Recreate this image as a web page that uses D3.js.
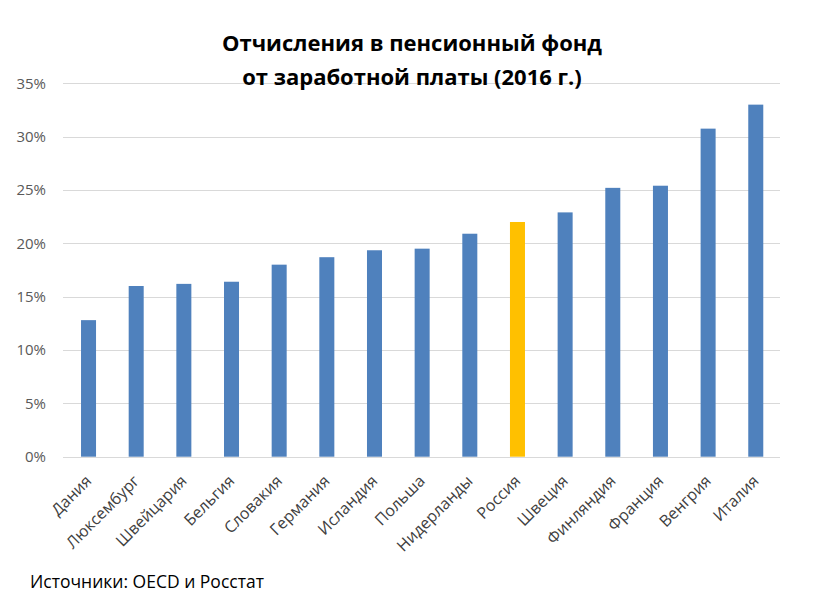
<!DOCTYPE html>
<html><head><meta charset="utf-8">
<script src="https://cdn.jsdelivr.net/npm/d3@7"></script>
<style>body{margin:0;background:#fff}</style>
</head><body>
<svg id="chart" width="817" height="611"></svg>
<script>
const categories = ["Дания","Люксембург","Швейцария","Бельгия","Словакия","Германия","Исландия","Польша","Нидерланды","Россия","Швеция","Финляндия","Франция","Венгрия","Италия"];
const values = [12.8,16.0,16.2,16.4,18.0,18.7,19.35,19.5,20.9,22.0,22.9,25.2,25.4,30.75,33.0];
const highlight = ["Россия"];
const yTicks = [0,5,10,15,20,25,30,35];
const titleLines = ["Отчисления в пенсионный фонд","от заработной платы (2016 г.)"];
const sourceText = "Источники: OECD и Росстат";

const svg = d3.select("#chart");
const x = d3.scaleBand().domain(categories).range([64.7,779.6]).paddingInner(0.685).paddingOuter(0.3425);
const y = d3.scaleLinear().domain([0,35]).range([456.7,83.3]);

// gridlines
svg.append("g").selectAll("line").data(yTicks).join("line")
  .attr("x1",63).attr("x2",780)
  .attr("y1",d=>Math.round(y(d))+0.5).attr("y2",d=>Math.round(y(d))+0.5)
  .attr("stroke","#d9d9d9").attr("stroke-width",1);

// y labels
svg.append("g").selectAll("text").data(yTicks).join("text")
  .attr("x",46).attr("y",d=>y(d)).attr("dy","0.35em")
  .attr("text-anchor","end")
  .attr("font-family","Open Sans, sans-serif").attr("font-size",15)
  .attr("fill","#595959").text(d=>d+"%");

// bars
svg.append("g").selectAll("rect").data(categories).join("rect")
  .attr("x",d=>x(d)).attr("width",x.bandwidth())
  .attr("y",(d,i)=>y(values[i])).attr("height",(d,i)=>y(0)-y(values[i]))
  .attr("fill",d=>highlight.includes(d)?"#ffc000":"#4f81bd");

// x labels
svg.append("g").selectAll("text").data(categories).join("text")
  .attr("transform",d=>`translate(${x(d)+x.bandwidth()/2+4},${482}) rotate(-45)`)
  .attr("text-anchor","end")
  .attr("font-family","Open Sans, sans-serif").attr("font-size",16)
  .attr("fill","#404040").text(d=>d);

// title
svg.append("g").selectAll("text").data(titleLines).join("text")
  .attr("x",412).attr("y",(d,i)=>51+i*34)
  .attr("text-anchor","middle")
  .attr("font-family","Open Sans, sans-serif").attr("font-weight","bold").attr("font-size",22)
  .attr("fill","#000").text(d=>d);

svg.append("text").attr("x",30).attr("y",588)
  .attr("font-family","Open Sans, sans-serif").attr("font-size",17.5)
  .attr("fill","#000").text(sourceText);
</script>
</body></html>
